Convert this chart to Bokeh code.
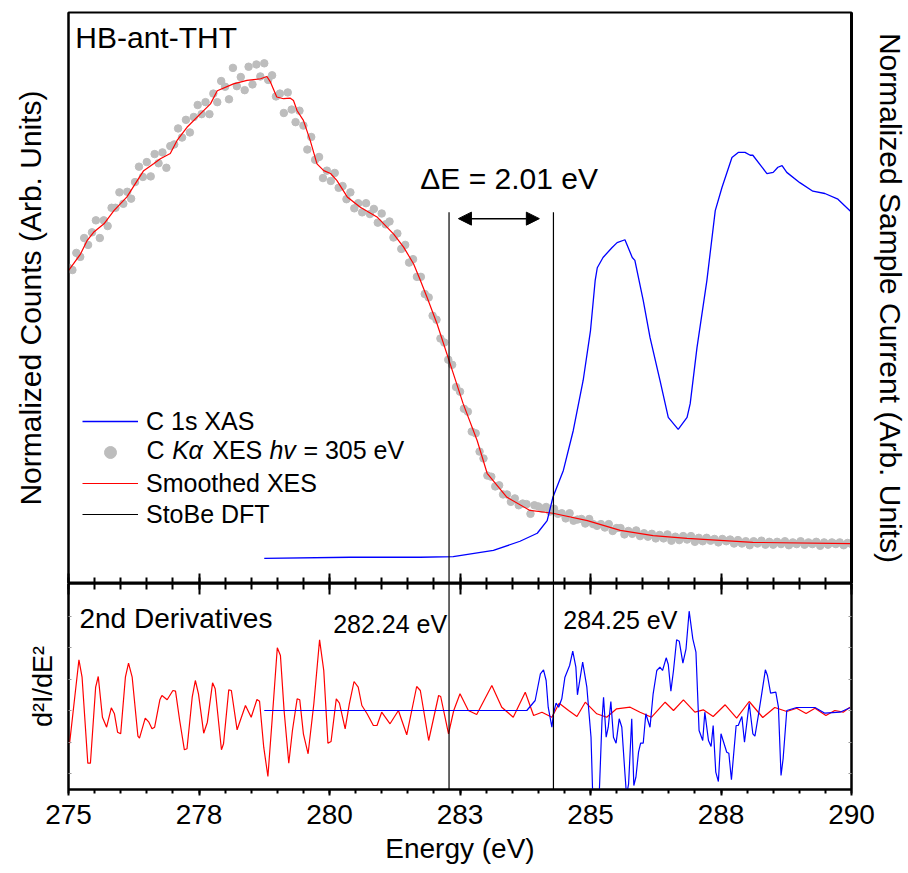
import numpy as np
from bokeh.plotting import figure
from bokeh.models import (Range1d, LinearAxis, FixedTicker, Label, Arrow, NormalHead,
                          Legend, LegendItem, Span, Title)
from bokeh.layouts import column
from bokeh.embed import file_html
from bokeh.resources import INLINE

FONT = "Liberation Sans"

# ---------------- axis ticks ----------------
x_ticks = [275.0, 277.5, 280.0, 282.5, 285.0, 287.5, 290.0]
x_tick_labels = ["275", "278", "280", "283", "285", "288", "290"]
x_minor_ticks = [275.0, 275.5, 276.0, 276.5, 277.0, 277.5, 278.0, 278.5, 279.0, 279.5,
                 280.0, 280.5, 281.0, 281.5, 282.0, 282.5, 283.0, 283.5, 284.0, 284.5,
                 285.0, 285.5, 286.0, 286.5, 287.0, 287.5, 288.0, 288.5, 289.0, 289.5, 290.0]
deriv_faint_ticks = [-6.3, -3.15, 0.0, 3.15, 6.3, 9.45]

# ---------------- XES (C K-alpha, hv = 305 eV) ----------------
xes_energy = np.linspace(275.0, 290.0, 201)
xes_counts = [
    55.3, 54.9, 57.9, 57.2, 60.5, 59.3, 61.5, 63.6, 60.5, 63.6,
    62.6, 65.8, 65.8, 68.5, 66.5, 68.6, 67.4, 70.3, 73.0, 71.2,
    73.8, 71.3, 75.2, 73.6, 75.5, 72.8, 76.6, 76.9, 79.7, 78.1,
    81.2, 79.0, 81.7, 83.8, 82.2, 84.3, 82.2, 85.8, 84.3, 88.0,
    87.0, 84.8, 90.3, 87.1, 88.7, 86.4, 90.5, 87.4, 90.9, 88.8,
    91.1, 88.2, 89.0, 85.3, 85.8, 82.4, 86.0, 83.0, 80.8, 82.8,
    80.2, 76.0, 78.2, 74.2, 74.7, 71.0, 72.3, 70.5, 71.9, 69.3,
    69.6, 67.3, 68.5, 65.7, 66.6, 65.0, 66.6, 64.7, 65.6, 63.2,
    64.8, 62.9, 63.4, 60.6, 61.3, 58.6, 59.3, 56.2, 56.8, 53.7,
    53.7, 50.7, 50.1, 46.9, 46.2, 42.9, 42.2, 39.2, 38.3, 34.4,
    33.6, 30.6, 30.1, 26.6, 26.3, 23.1, 21.9, 18.9, 18.7, 17.0,
    17.2, 15.6, 15.6, 14.3, 14.9, 13.7, 14.0, 13.9, 12.2, 13.7,
    13.5, 13.1, 13.4, 12.6, 13.1, 12.2, 12.3, 11.4, 12.3, 11.0,
    11.2, 11.3, 10.5, 11.3, 10.4, 10.1, 10.4, 9.8, 10.4, 9.2,
    9.7, 9.7, 8.6, 9.2, 8.7, 9.3, 8.3, 8.8, 8.2, 8.7,
    7.9, 8.5, 7.9, 8.6, 7.5, 8.2, 7.6, 8.3, 7.7, 8.3,
    7.3, 8.0, 7.4, 8.0, 7.5, 7.8, 7.2, 7.8, 7.4, 7.7,
    7.0, 7.6, 7.0, 7.4, 6.7, 7.4, 7.0, 7.5, 6.8, 7.3,
    6.8, 7.3, 6.9, 7.4, 6.7, 7.2, 6.9, 7.4, 6.8, 7.2,
    6.9, 7.3, 6.6, 7.2, 6.8, 7.2, 6.9, 7.2, 6.7, 7.1,
    6.9]

smooth_energy = [275.0, 275.23, 275.36, 275.48, 275.68, 275.87, 276.12, 276.32, 276.44, 276.63,
                 276.76, 276.95, 277.08, 277.27, 277.53, 277.72, 277.85, 278.16, 278.42, 278.68,
                 278.80, 278.87, 278.99, 279.12, 279.25, 279.31, 279.38, 279.50, 279.63, 279.76,
                 279.89, 280.02, 280.14, 280.34, 280.59, 280.91, 281.10, 281.23, 281.42, 281.61,
                 281.74, 281.87, 282.06, 282.31, 282.56, 282.83, 283.02, 283.40, 283.84, 284.28,
                 284.94, 285.57, 286.20, 286.85, 288.11, 290.0]
smooth_counts = [54.8, 57.7, 60.1, 61.5, 63.0, 65.3, 67.7, 70.6, 72.3, 73.5,
                 74.4, 75.3, 77.6, 79.9, 82.3, 84.0, 86.3, 87.5, 88.1, 88.4,
                 88.8, 87.8, 85.2, 84.9, 85.0, 84.6, 82.8, 81.1, 77.6, 73.5,
                 72.3, 71.8, 70.6, 67.7, 65.9, 64.2, 62.4, 61.2, 58.9, 56.0,
                 53.1, 50.1, 45.5, 38.5, 31.5, 25.0, 19.3, 15.1, 12.8, 12.3,
                 11.0, 9.3, 8.4, 7.9, 7.2, 7.0]

# ---------------- XAS (C 1s) ----------------
xas_energy = [278.75, 280.40, 281.74, 282.37, 283.14, 283.65, 283.98, 284.17, 284.28, 284.48,
              284.67, 284.86, 285.00, 285.09, 285.13, 285.24, 285.41, 285.51, 285.66, 285.80,
              285.85, 286.01, 286.14, 286.33, 286.49, 286.68, 286.85, 286.91, 287.04, 287.23,
              287.39, 287.52, 287.71, 287.83, 287.96, 288.06, 288.11, 288.38, 288.50, 288.59,
              288.67, 288.76, 289.01, 289.26, 289.49, 289.74, 289.99]
xas_current = [4.4, 4.6, 4.6, 4.7, 5.8, 7.4, 8.8, 11.0, 15.1, 19.8,
               26.8, 35.6, 44.3, 53.1, 55.3, 57.1, 58.8, 59.7, 60.2, 57.1,
               56.6, 49.6, 43.1, 35.6, 29.1, 27.0, 29.1, 31.5, 41.3, 53.1,
               65.3, 69.4, 74.6, 75.5, 75.5, 75.0, 75.0, 71.8, 72.0, 72.9,
               73.2, 72.0, 70.2, 68.7, 68.3, 67.3, 65.1]

# ---------------- 2nd derivatives ----------------
d2_xes_energy = [275.02, 275.20, 275.26, 275.37, 275.42, 275.52, 275.57, 275.65, 275.73, 275.82,
                 275.88, 275.94, 276.00, 276.09, 276.15, 276.22, 276.33, 276.36, 276.47, 276.54,
                 276.60, 276.65, 276.75, 276.79, 276.89, 277.00, 277.05, 277.13, 277.22, 277.27,
                 277.37, 277.43, 277.49, 277.59, 277.66, 277.76, 277.81, 277.93, 277.97, 278.07,
                 278.12, 278.23, 278.39, 278.50, 278.61, 278.66, 278.74, 278.82, 278.90, 279.00,
                 279.06, 279.13, 279.22, 279.29, 279.38, 279.43, 279.50, 279.59, 279.70, 279.81,
                 279.89, 279.97, 280.03, 280.13, 280.19, 280.30, 280.38, 280.47, 280.55, 280.62,
                 280.72, 280.84, 280.91, 281.00, 281.16, 281.32, 281.48, 281.67, 281.74, 281.90,
                 282.09, 282.13, 282.28, 282.38, 282.50, 282.66, 282.82, 283.11, 283.30, 283.52,
                 283.75, 283.91, 284.07, 284.26, 284.40, 284.58, 284.74, 284.90, 285.12, 285.31,
                 285.50, 285.76, 285.95, 286.17, 286.43, 286.59, 286.78, 287.00, 287.16, 287.35,
                 287.58, 287.80, 288.04, 288.30, 288.53, 288.76, 288.95, 289.13, 289.30, 289.51,
                 289.68, 289.84, 289.97]
d2_xes = [-3.33, 5.07, 3.33, -5.27, -5.27, 2.33, 3.4, -0.67, -1.67, 0.27,
          -0.33, -2.17, -2.33, 3.33, 4.73, 3.33, -2.57, -2.77, -0.77, -1.17,
          -1.83, -1.67, 1.07, 1.5, 1.07, 2.0, 1.93, -1.0, -3.93, -3.83,
          1.33, 3.0, 1.67, -2.27, -1.17, 2.77, 2.17, -3.93, -3.33, 2.07,
          2.0, -1.93, 0.5, -0.67, 1.1, 0.93, -3.67, -6.6, -1.0, 6.27,
          5.5, 0.0, -5.27, -2.0, 1.17, 1.07, -2.33, -4.33, 0.67, 7.07,
          4.0, -3.27, -3.1, 1.17, 0.73, -1.83, 0.67, 2.9, 2.33, 0.5,
          -0.33, -1.5, -1.5, -0.17, -1.33, 0.0, -2.43, 2.4, 2.0, -3.0,
          1.5, 1.4, -2.33, 0.0, 1.67, 0.0, -0.4, 2.5, 0.33, -0.67,
          1.83, -0.5, -0.17, -0.67, 0.73, 0.0, -0.6, 0.83, -0.33, -0.67,
          0.17, 0.33, -0.17, -0.67, 0.83, 0.0, 1.07, -0.17, 0.07, -0.6,
          0.57, -0.77, 0.9, -0.7, 0.3, -0.1, 0.23, -0.3, 0.23, -0.5,
          0.0, -0.17, 0.33]

d2_xas_energy = [278.75, 283.78, 283.94, 284.04, 284.10, 284.15, 284.19, 284.26, 284.29, 284.34,
                 284.39, 284.45, 284.51, 284.60, 284.66, 284.72, 284.75, 284.85, 284.93, 285.01,
                 285.04, 285.12, 285.17, 285.22, 285.25, 285.30, 285.34, 285.39, 285.44, 285.49,
                 285.55, 285.60, 285.66, 285.69, 285.73, 285.79, 285.83, 285.87, 285.92, 285.96,
                 286.01, 286.06, 286.14, 286.20, 286.27, 286.33, 286.38, 286.45, 286.49, 286.54,
                 286.59, 286.65, 286.70, 286.77, 286.83, 286.89, 286.96, 287.02, 287.08, 287.15,
                 287.19, 287.26, 287.31, 287.35, 287.40, 287.45, 287.50, 287.61, 287.65, 287.70,
                 287.79, 287.83, 287.90, 287.95, 288.04, 288.11, 288.15, 288.21, 288.28, 288.35,
                 288.39, 288.45, 288.55, 288.60, 288.65, 288.69, 288.76, 288.95, 289.30, 289.49,
                 289.78, 289.97]
d2_xas = [0.0, 0.0, 1.0, 3.67, 4.07, 3.0, 0.33, -1.67, -0.33, 0.73,
          0.33, 1.17, 3.33, 4.5, 5.93, 4.33, 1.57, 4.83, 2.33, -2.67,
          -8.0, -9.0, -8.0, -1.0, 1.33, -2.67, -1.67, 0.9, -2.67, -3.27,
          -0.83, -1.67, -6.33, -8.5, -7.33, -0.83, -7.5, -6.67, -4.17, -3.27,
          -3.27, -0.33, -1.67, 1.67, 4.0, 4.33, 4.0, 5.27, 4.6, 1.93,
          4.0, 7.07, 6.93, 4.73, 6.17, 9.93, 7.17, 5.83, -2.0, -3.0,
          -0.17, -3.0, -3.6, -1.5, -6.17, -7.1, -2.33, -4.17, -4.27, -6.93,
          -1.5, -1.5, -0.6, -3.17, 0.73, -2.33, -2.57, -0.67, 1.67, 4.07,
          3.5, 1.73, 1.83, 0.33, -6.5, -4.83, 0.0, 0.3, 0.3, -0.27,
          -0.17, 0.27]

# ---------------- annotations ----------------
edge_energies = [282.29, 284.29]
edge_labels = ["282.24 eV", "284.25 eV"]
edge_line_top = 65.0
delta_text = "\u0394E = 2.01 eV"
arrow_span = [282.47, 284.02]
arrow_level = 63.9
deriv_ylabel = "d\u00b2I/dE\u00b2"

# legend label of the XES item, split into (text, italic?, left-edge energy)
xes_legend_parts = [("C", False, 276.494), ("K", True, 276.987), ("\u03b1", True, 277.299),
                    ("XES", False, 277.753), ("hv", True, 278.850), ("= 305 eV", False, 279.50)]
xes_legend_baseline = 23.3

x_range = Range1d(275, 290)


def hide_labels(ax):
    ax.major_label_text_font_size = "0px"
    ax.major_label_text_color = None
    ax.major_label_standoff = 0


def black_axis(ax):
    ax.axis_line_color = "black"
    ax.axis_line_width = 2
    ax.major_tick_line_color = "black"
    ax.major_tick_line_width = 2
    ax.minor_tick_line_color = "black"
    ax.minor_tick_line_width = 2


# =============== TOP PANEL ===============
top = figure(frame_width=783, frame_height=571, x_range=x_range, y_range=Range1d(0, 100),
             output_backend="svg", toolbar_location=None,
             x_axis_location=None, y_axis_location=None,
             min_border_left=68, min_border_right=57, min_border_top=12, min_border_bottom=0)
top.extra_y_ranges = {"xas": Range1d(0, 100)}
top.xgrid.visible = False
top.ygrid.visible = False
top.outline_line_color = "black"
top.outline_line_width = 2
top.outline_line_alpha = 1

left_ax = LinearAxis(ticker=FixedTicker(ticks=[]), axis_label="Normalized Counts (Arb. Units)")
right_ax = LinearAxis(ticker=FixedTicker(ticks=[]), y_range_name="xas",
                      axis_label="Normalized Sample Current (Arb. Units)")
for ax in (left_ax, right_ax):
    black_axis(ax)
    hide_labels(ax)
    ax.major_tick_out = 0
    ax.major_tick_in = 0
    ax.minor_tick_out = 0
    ax.minor_tick_in = 0
    ax.axis_label_text_font = FONT
    ax.axis_label_text_font_size = "30px"
    ax.axis_label_text_font_style = "normal"
    ax.axis_label_text_color = "black"
left_ax.axis_label_standoff = 22
right_ax.axis_label_standoff = 22
right_ax.axis_line_width = 3
top.add_layout(left_ax, "left")
top.add_layout(right_ax, "right")

mid_ax = LinearAxis(ticker=FixedTicker(ticks=x_ticks, minor_ticks=x_minor_ticks))
black_axis(mid_ax)
hide_labels(mid_ax)
mid_ax.major_tick_in = 10
mid_ax.major_tick_out = 0
mid_ax.minor_tick_in = 6
mid_ax.minor_tick_out = 0
top.add_layout(mid_ax, "below")

xes_r = top.scatter(xes_energy, xes_counts, size=7.5, fill_color="#bdbdbd", line_color="#bdbdbd")
smooth_r = top.line(smooth_energy, smooth_counts, line_color="#ff0000", line_width=1.2)
xas_r = top.line(xas_energy, xas_current, line_color="#0000ff", line_width=1.3, y_range_name="xas")

edge_r = top.segment(x0=edge_energies, y0=[0, 0], x1=edge_energies,
                     y1=[edge_line_top, edge_line_top], line_color="black", line_width=1.2)

top.add_layout(Arrow(start=NormalHead(size=13, fill_color="black", line_color="black"),
                     end=NormalHead(size=13, fill_color="black", line_color="black"),
                     x_start=arrow_span[0], y_start=arrow_level,
                     x_end=arrow_span[1], y_end=arrow_level,
                     line_color="black", line_width=1.5))

top.add_layout(Label(x=281.74, y=71.0, text=delta_text, text_font=FONT, text_font_size="30px",
                     text_baseline="alphabetic", text_color="black"))
top.add_layout(Label(x=275.13, y=95.7, text="HB-ant-THT", text_font=FONT, text_font_size="30px",
                     text_baseline="alphabetic", text_color="black"))

legend = Legend(items=[LegendItem(label="C 1s XAS", renderers=[xas_r]),
                       LegendItem(label=" ", renderers=[xes_r]),
                       LegendItem(label="Smoothed XES", renderers=[smooth_r]),
                       LegendItem(label="StoBe DFT", renderers=[edge_r])],
                location=(14, 54), label_text_font=FONT, label_text_font_size="25px",
                label_text_color="black",
                glyph_width=56, glyph_height=30, label_height=30, label_standoff=8,
                spacing=1, padding=0, margin=0, border_line_color=None,
                background_fill_alpha=0)
top.add_layout(legend)

for txt, ital, xx in xes_legend_parts:
    top.add_layout(Label(x=xx, y=xes_legend_baseline, text=txt, text_font=FONT,
                         text_font_size="25px", text_font_style="italic" if ital else "normal",
                         text_baseline="alphabetic", text_color="black"))

# =============== BOTTOM PANEL ===============
bot = figure(frame_width=783, frame_height=206, x_range=x_range, y_range=Range1d(-7.9, 12.7),
             output_backend="svg", toolbar_location=None,
             x_axis_location=None, y_axis_location=None,
             min_border_left=68, min_border_right=57, min_border_top=0, min_border_bottom=0)
bot.xgrid.visible = False
bot.ygrid.visible = False
bot.outline_line_color = "black"
bot.outline_line_width = 2

above_ax = LinearAxis(ticker=FixedTicker(ticks=x_ticks, minor_ticks=x_minor_ticks))
black_axis(above_ax)
hide_labels(above_ax)
above_ax.major_tick_in = 11
above_ax.major_tick_out = 0
above_ax.minor_tick_in = 6
above_ax.minor_tick_out = 0
bot.add_layout(above_ax, "above")

below_ax = LinearAxis(ticker=FixedTicker(ticks=x_ticks, minor_ticks=x_minor_ticks),
                      axis_label="Energy (eV)")
black_axis(below_ax)
below_ax.major_tick_in = 0
below_ax.major_tick_out = 6
below_ax.minor_tick_in = 0
below_ax.minor_tick_out = 4
below_ax.major_label_overrides = dict(zip(x_ticks, x_tick_labels))
below_ax.major_label_text_font = FONT
below_ax.major_label_text_font_size = "28px"
below_ax.major_label_text_color = "black"
below_ax.major_label_standoff = 9
below_ax.axis_label_text_font = FONT
below_ax.axis_label_text_font_size = "28px"
below_ax.axis_label_text_font_style = "normal"
below_ax.axis_label_text_color = "black"
below_ax.axis_label_standoff = 6
bot.add_layout(below_ax, "below")

for side in ("left", "right"):
    ax = LinearAxis(ticker=FixedTicker(ticks=deriv_faint_ticks))
    hide_labels(ax)
    ax.axis_line_color = "black"
    ax.axis_line_width = 2
    ax.major_tick_in = 3
    ax.major_tick_out = 0
    ax.major_tick_line_color = "#9a9a9a"
    ax.minor_tick_line_color = None
    bot.add_layout(ax, side)

bot.add_layout(Title(text=deriv_ylabel, align="center", text_font=FONT, text_font_size="27px",
                     text_font_style="normal", text_color="black", standoff=22), "left")

bot.line(d2_xes_energy, d2_xes, line_color="#ff0000", line_width=1.2)
bot.line(d2_xas_energy, d2_xas, line_color="#0000ff", line_width=1.2)
for e in edge_energies:
    bot.add_layout(Span(location=e, dimension="height", line_color="black", line_width=1.2))

bot.add_layout(Label(x=275.21, y=9.2, text="2nd Derivatives", text_font=FONT,
                     text_font_size="28px", text_baseline="alphabetic", text_color="black"))
bot.add_layout(Label(x=280.07, y=8.7, text=edge_labels[0], text_font=FONT,
                     text_font_size="25px", text_baseline="alphabetic", text_color="black"))
bot.add_layout(Label(x=284.48, y=9.1, text=edge_labels[1], text_font=FONT,
                     text_font_size="25px", text_baseline="alphabetic", text_color="black"))

layout = column(top, bot, spacing=0)
open("out.html", "w").write(file_html(layout, INLINE))
